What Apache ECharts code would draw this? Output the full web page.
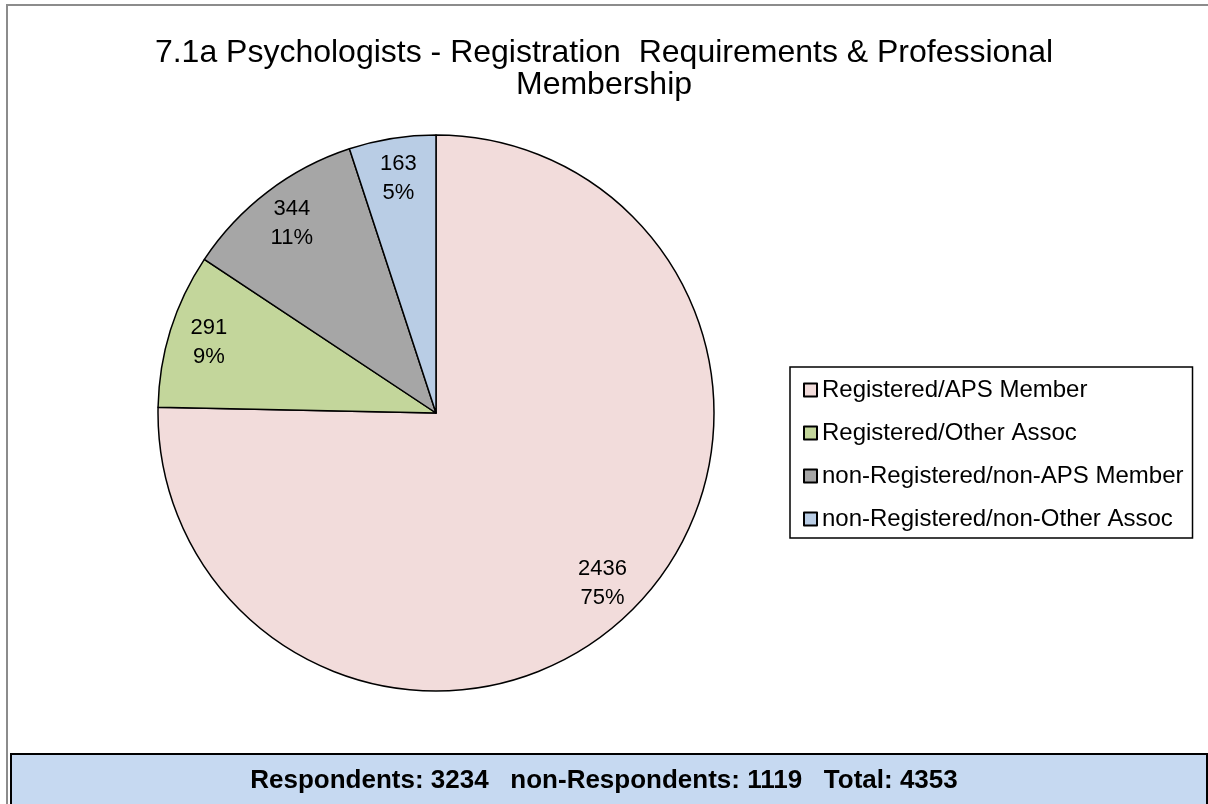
<!DOCTYPE html>
<html>
<head>
<meta charset="utf-8">
<title>7.1a Psychologists</title>
<script src="https://cdn.jsdelivr.net/npm/echarts@6/dist/echarts.min.js"></script>
<style>
  html, body { margin: 0; padding: 0; background: #fff; }
  #main { width: 1208px; height: 804px; }
</style>
</head>
<body>
<div id="main"></div>
<script>
// membership groups, in the order Excel draws them (clockwise from 12 o'clock)
var categories = [
  'Registered/APS Member',
  'Registered/Other Assoc',
  'non-Registered/non-APS Member',
  'non-Registered/non-Other Assoc'
];
var counts = [2436, 291, 344, 163];
var colors = ['#F2DCDB', '#C3D69B', '#A6A6A6', '#B9CDE5'];

// footer totals
var respondents = 3234;
var nonRespondents = 1119;
var total = 4353;

var font = '"Liberation Sans", Arial, sans-serif';
var center = [436, 413];
var R = 278;

var myChart = echarts.init(document.getElementById('main'), null, { renderer: 'canvas' });

var pieData = categories.map(function (name, i) {
  return { name: name, value: counts[i], itemStyle: { color: colors[i] } };
});

var option = {
  backgroundColor: '#fff',
  animation: false,
  title: {
    text: '7.1a Psychologists - Registration  Requirements & Professional\nMembership',
    left: 'center',
    top: 32,
    textStyle: {
      fontFamily: font,
      fontSize: 32,
      fontWeight: 'normal',
      color: '#000',
      lineHeight: 32
    }
  },
  legend: {
    orient: 'vertical',
    left: 790,
    top: 367,
    data: categories,
    icon: 'rect',
    itemWidth: 13,
    itemHeight: 13,
    itemGap: 19,
    padding: [11, 9, 7, 13],
    borderColor: '#000',
    borderWidth: 1.5,
    backgroundColor: '#fff',
    selectedMode: false,
    textStyle: { fontFamily: font, fontSize: 24, color: '#000' }
  },
  series: [
    {
      name: 'membership',
      type: 'pie',
      center: center,
      radius: [0, R],
      startAngle: 90,
      clockwise: true,
      percentPrecision: 0,
      itemStyle: { borderColor: '#000', borderWidth: 1.5 },
      label: { show: false },
      labelLine: { show: false },
      emphasis: { disabled: true },
      data: pieData
    },
    {
      // transparent ring so the "inside" labels sit near the rim like Excel's
      name: 'labels',
      type: 'pie',
      center: center,
      radius: [192, R],
      startAngle: 90,
      clockwise: true,
      percentPrecision: 0,
      silent: true,
      legendHoverLink: false,
      itemStyle: { color: 'rgba(0,0,0,0)', borderWidth: 0 },
      label: {
        show: true,
        position: 'inside',
        formatter: '{c}\n{d}%',
        fontFamily: font,
        fontSize: 22,
        lineHeight: 29,
        color: '#000'
      },
      labelLine: { show: false },
      emphasis: { disabled: true },
      data: categories.map(function (name, i) {
        return { name: name, value: counts[i] };
      })
    }
  ],
  graphic: [
    {
      type: 'rect',
      z: -10,
      shape: { x: 7, y: 5, width: 1300, height: 900 },
      style: { fill: 'none', stroke: '#8c8c8c', lineWidth: 2 }
    },
    {
      type: 'rect',
      z: 10,
      shape: { x: 11, y: 754, width: 1196, height: 60 },
      style: { fill: '#C6D9F1', stroke: '#000', lineWidth: 2 }
    },
    {
      type: 'text',
      z: 11,
      left: 'center',
      top: 768,
      style: {
        text: 'Respondents: ' + respondents + '   non-Respondents: ' + nonRespondents + '   Total: ' + total,
        font: 'bold 26px ' + font,
        fill: '#000'
      }
    }
  ]
};

myChart.setOption(option);
</script>
</body>
</html>
